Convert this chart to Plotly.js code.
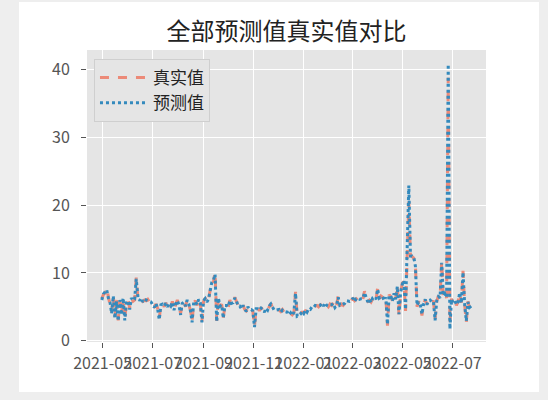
<!DOCTYPE html>
<html>
<head>
<meta charset="utf-8">
<script src="https://cdn.plot.ly/plotly-3.0.1.min.js"></script>
<style>
  html, body { margin: 0; padding: 0; background: #eeeeee; width: 548px; height: 400px; overflow: hidden; }
  #chart { position: absolute; left: 19px; top: 2px; width: 520px; height: 390px; }
</style>
</head>
<body>
<div id="chart"></div>
<script>
// ---- data ----
const startDate = '2021-04-30';   // first sample
const stepDays = 2;               // one sample every 2 days

const trueValues = [
  6.2, 6.8, 7.0, 7.8, 6.5, 5.5, 4.2, 6.5, 3.5, 6.0,
  3.0, 5.8, 4.0, 6.2, 3.2, 5.5, 6.0, 4.8, 6.2, 5.8,
  6.0, 9.3, 6.3, 6.0, 6.2, 5.8, 6.0, 5.9, 6.1, 5.7,
  5.8, 5.2, 5.0, 5.4, 4.8, 3.3, 5.2, 5.5, 5.0, 5.6,
  4.9, 5.5, 5.0, 5.8, 4.6, 5.3, 6.0, 5.2, 4.0, 5.4,
  5.8, 5.0, 6.1, 5.3, 4.5, 2.8, 5.6, 5.9, 5.2, 6.2,
  5.5, 2.8, 5.8, 6.3, 5.6, 6.0, 7.5, 8.9, 8.6, 10.1,
  2.9, 6.2, 5.0, 5.4, 3.4, 5.1, 5.3, 4.9, 6.0, 5.4,
  5.7, 6.4, 5.8, 5.2, 5.0, 4.8, 5.3, 4.6, 4.4, 4.9,
  4.5, 4.7, 4.3, 2.1, 4.6, 4.8, 4.4, 4.9, 4.5, 4.3,
  4.7, 4.6, 5.0, 5.5, 4.8, 4.6, 4.4, 4.7, 4.5, 4.3,
  4.6, 4.2, 4.4, 4.1, 3.9, 4.0, 3.8, 4.1, 7.2, 3.7,
  3.6, 4.0, 4.2, 4.1, 4.4, 4.3, 4.6, 4.7, 4.9, 5.0,
  5.1, 5.2, 5.0, 5.3, 5.4, 5.2, 5.5, 5.3, 5.0, 5.4,
  5.2, 5.6, 4.8, 5.3, 6.6, 5.1, 5.4, 5.2, 5.6, 5.8,
  5.9, 5.7, 6.0, 6.2, 5.9, 6.1, 6.4, 6.0, 6.3, 6.1,
  7.3, 6.2, 5.8, 6.0, 5.7, 6.2, 6.5, 6.0, 7.8, 6.2,
  6.6, 6.4, 6.0, 6.3, 2.2, 6.8, 6.5, 5.9, 6.9, 6.2,
  8.2, 3.7, 7.0, 8.5, 8.7, 4.4, 12.5, 20.5, 12.6, 12.4,
  12.2, 11.2, 5.0, 5.8, 5.2, 3.7, 5.5, 6.0, 5.4, 5.8,
  6.1, 5.6, 5.9, 3.2, 5.8, 6.6, 6.2, 11.7, 6.5, 7.0,
  6.3, 38.8, 2.6, 6.2, 5.5, 6.0, 5.2, 5.8, 7.0, 5.6,
  10.3, 5.3, 2.7, 5.8, 4.8, 5.0
];

const predValues = [
  6.0, 6.9, 7.2, 7.5, 6.3, 5.7, 4.0, 6.6, 3.3, 5.8,
  2.9, 6.0, 3.8, 6.3, 3.0, 5.6, 5.9, 4.6, 6.3, 5.9,
  6.1, 9.1, 6.4, 5.9, 6.3, 5.7, 6.1, 6.0, 6.0, 5.8,
  5.7, 5.3, 4.9, 5.5, 4.7, 3.1, 5.3, 5.4, 5.1, 5.5,
  5.0, 5.4, 5.1, 5.7, 4.5, 5.4, 5.9, 5.3, 3.8, 5.5,
  5.7, 5.1, 6.0, 5.4, 4.4, 2.7, 5.7, 5.8, 5.3, 6.1,
  5.6, 2.7, 5.9, 6.2, 5.7, 6.1, 7.2, 8.6, 8.9, 9.8,
  2.8, 6.3, 5.1, 5.3, 3.3, 5.2, 5.2, 5.0, 5.9, 5.5,
  5.6, 6.3, 5.9, 5.1, 5.1, 4.7, 5.2, 4.7, 4.3, 5.0,
  4.6, 4.6, 4.4, 2.0, 4.7, 4.7, 4.5, 4.8, 4.6, 4.2,
  4.8, 4.5, 5.1, 5.4, 4.9, 4.5, 4.5, 4.6, 4.6, 4.2,
  4.5, 4.3, 4.3, 4.2, 3.8, 4.1, 3.7, 4.2, 7.0, 3.6,
  3.7, 3.9, 4.3, 4.0, 4.5, 4.2, 4.7, 4.6, 5.0, 4.9,
  5.2, 5.1, 5.1, 5.2, 5.5, 5.1, 5.6, 5.2, 5.1, 5.3,
  5.3, 5.5, 4.9, 5.2, 6.4, 5.2, 5.3, 5.3, 5.5, 5.9,
  5.8, 5.8, 5.9, 6.3, 5.8, 6.2, 6.3, 6.1, 6.2, 6.2,
  7.1, 6.3, 5.7, 6.1, 5.6, 6.3, 6.4, 6.1, 7.6, 6.3,
  6.5, 6.5, 5.9, 6.4, 2.4, 6.7, 6.6, 5.8, 7.0, 6.1,
  8.0, 3.9, 7.1, 8.3, 8.9, 4.6, 12.2, 22.9, 12.5, 12.5,
  12.3, 11.0, 5.2, 5.7, 5.3, 3.9, 5.4, 6.1, 5.3, 5.9,
  6.0, 5.7, 5.8, 3.0, 5.9, 6.5, 6.3, 11.5, 6.6, 6.9,
  6.4, 40.8, 1.7, 6.1, 5.6, 5.9, 5.3, 5.7, 7.1, 5.5,
  10.1, 5.4, 2.9, 5.7, 4.9, 5.1
];

const xTickVals = ['2021-05-01', '2021-07-01', '2021-09-01', '2021-11-01',
                   '2022-01-01', '2022-03-01', '2022-05-01', '2022-07-01'];
const xTickText = ['2021-05', '2021-07', '2021-09', '2021-11',
                   '2022-01', '2022-03', '2022-05', '2022-07'];
const yTickVals = [0, 10, 20, 30, 40];

const titleText = '全部预测值真实值对比';
const trueName = '真实值';
const predName = '预测值';

// ---- build sample dates ----
function buildDates(start, step, n) {
  const out = [];
  const t0 = Date.parse(start + 'T00:00:00Z');
  for (let i = 0; i < n; i++) {
    const d = new Date(t0 + i * step * 86400000);
    out.push(d.toISOString().slice(0, 10));
  }
  return out;
}
const dates = buildDates(startDate, stepDays, trueValues.length);

const FONT = '"Noto Sans CJK SC", "Noto Sans", sans-serif';

const traces = [
  {
    x: dates, y: trueValues, name: trueName, type: 'scatter', mode: 'lines',
    line: { color: '#ec8a78', width: 3, dash: 'dash' }
  },
  {
    x: dates, y: predValues, name: predName, type: 'scatter', mode: 'lines',
    line: { color: '#348ABD', width: 3, dash: 'dot' }
  }
];

const layout = {
  width: 520, height: 390,
  margin: { l: 68, r: 53, t: 48, b: 50 },
  paper_bgcolor: '#ffffff',
  plot_bgcolor: '#e5e5e5',
  showlegend: true,
  title: {
    text: titleText,
    font: { family: FONT, size: 24, color: '#222222' },
    x: 0.5, xref: 'paper', xanchor: 'center',
    y: 0.923, yref: 'container', yanchor: 'middle'
  },
  xaxis: {
    type: 'date',
    range: ['2021-04-12', '2022-08-11'],
    tickvals: xTickVals, ticktext: xTickText,
    tickangle: 0,
    showgrid: true, gridcolor: '#ffffff', gridwidth: 1,
    zeroline: false, showline: false,
    ticks: 'outside', ticklen: 5, tickcolor: '#555555', tickwidth: 1,
    tickfont: { family: FONT, size: 16, color: '#555555' },
    ticklabelstandoff: 2
  },
  yaxis: {
    range: [-0.2, 42.9],
    tickvals: yTickVals,
    showgrid: true, gridcolor: '#ffffff', gridwidth: 1,
    zeroline: false, showline: false,
    ticks: 'outside', ticklen: 5, tickcolor: '#555555', tickwidth: 1,
    tickfont: { family: FONT, size: 16, color: '#555555' },
    ticklabelstandoff: 8
  },
  legend: {
    x: 0.0175, y: 0.969, xanchor: 'left', yanchor: 'top',
    bgcolor: '#e5e5e5', bordercolor: '#cfcfcf', borderwidth: 1,
    font: { family: FONT, size: 17, color: '#222222' },
    itemwidth: 48, tracegroupgap: 0
  }
};

Plotly.newPlot('chart', traces, layout, { displayModeBar: false, staticPlot: true });
</script>
</body>
</html>
